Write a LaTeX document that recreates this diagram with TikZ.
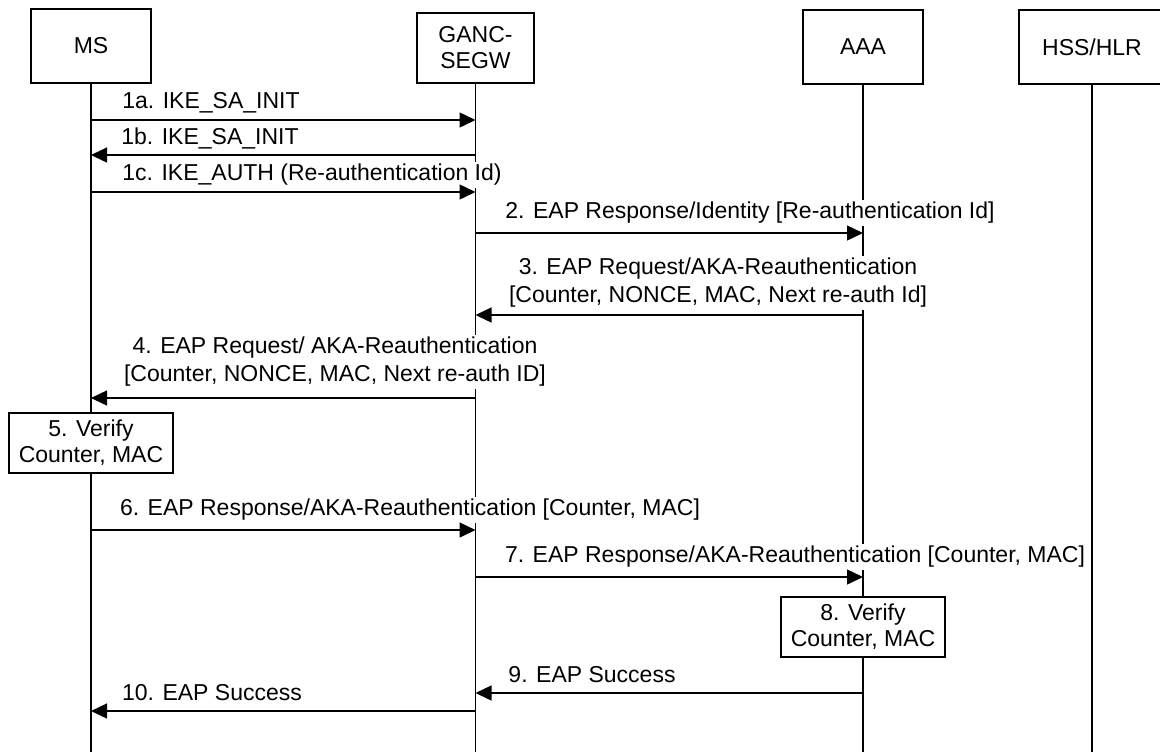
\documentclass[tikz,border=0pt]{standalone}
\usepackage{fontspec}
\setmainfont{Liberation Sans}
\usetikzlibrary{arrows.meta}

\begin{document}
\begin{tikzpicture}[
  x=0.5pt, y=-0.5pt,
  entity/.style={rectangle, draw, line width=0.6pt, fill=white, align=center, minimum height=37pt, font=\fontsize{11.5}{13}\selectfont},
  check/.style={rectangle, draw, line width=0.6pt, fill=white, align=center, minimum width=82pt, minimum height=30pt, inner sep=1pt, font=\fontsize{11.5}{13}\selectfont},
  lifeline/.style={line width=0.7pt},
  msg/.style={-{Triangle[length=8pt, width=7.5pt]}, line width=0.7pt},
  lbl/.style={fill=white, inner sep=1pt, align=center, font=\fontsize{11.5}{14}\selectfont}
]
\useasboundingbox (0,0) rectangle (1160,751);

% Entities
\node[entity, minimum width=60pt] (ms) at (91,46) {MS};
\node[entity, minimum width=58.5pt, minimum height=35pt] (segw) at (475.5,48) {GANC-\\SEGW};
\node[entity, minimum width=60pt] (aaa) at (863,47) {AAA};
\node[entity, minimum width=73pt] (hss) at (1092,47) {HSS/HLR};

% Lifelines
\coordinate (bottom) at (0,760);
\draw[lifeline] (ms.south)   -- (ms.south |- bottom);
\draw[lifeline] (segw.south) -- (segw.south |- bottom);
\draw[lifeline] (aaa.south)  -- (aaa.south |- bottom);
\draw[lifeline] (hss.south)  -- (hss.south |- bottom);

% Message rows
\coordinate (r1a) at (0,120);
\coordinate (r1b) at (0,155);
\coordinate (r1c) at (0,192);
\coordinate (r2)  at (0,233);
\coordinate (r3)  at (0,315);
\coordinate (r4)  at (0,398);
\coordinate (r6)  at (0,530);
\coordinate (r7)  at (0,577);
\coordinate (r9)  at (0,693);
\coordinate (r10) at (0,711);

% Labels
\node[lbl] (l1a) at (211,103) {1a. IKE\_SA\_INIT};
\node[lbl] (l1b) at (210,138) {1b. IKE\_SA\_INIT};
\node[lbl] (l1c) at (312,175) {1c. IKE\_AUTH (Re-authentication Id)};
\node[lbl] (l2)  at (750,213) {2. EAP Response/Identity [Re-authentication Id]};
\node[lbl] (l3)  at (718,283) {3. EAP Request/AKA-Reauthentication\\{}[Counter, NONCE, MAC, Next re-auth Id]};
\node[lbl] (l4)  at (335,362) {4. EAP Request/ AKA-Reauthentication\\{}[Counter, NONCE, MAC, Next re-auth ID]};
\node[lbl] (l6)  at (410,510) {6. EAP Response/AKA-Reauthentication [Counter, MAC]};
\node[lbl] (l7)  at (795,557) {7. EAP Response/AKA-Reauthentication [Counter, MAC]};
\node[lbl] (l9)  at (592,675) {9. EAP Success};
\node[lbl] (l10) at (212,693) {10. EAP Success};

% Local checks
\node[check] (v5) at (91,443)  {5. Verify\\Counter, MAC};
\node[check] (v8) at (863,627) {8. Verify\\Counter, MAC};

% Messages
\draw[msg] (ms |- r1a)   -- (segw |- r1a);
\draw[msg] (segw |- r1b) -- (ms |- r1b);
\draw[msg] (ms |- r1c)   -- (segw |- r1c);
\draw[msg] (segw |- r2)  -- (aaa |- r2);
\draw[msg] (aaa |- r3)   -- (segw |- r3);
\draw[msg] (segw |- r4)  -- (ms |- r4);
\draw[msg] (ms |- r6)    -- (segw |- r6);
\draw[msg] (segw |- r7)  -- (aaa |- r7);
\draw[msg] (aaa |- r9)   -- (segw |- r9);
\draw[msg] (segw |- r10) -- (ms |- r10);

\end{tikzpicture}
\end{document}
